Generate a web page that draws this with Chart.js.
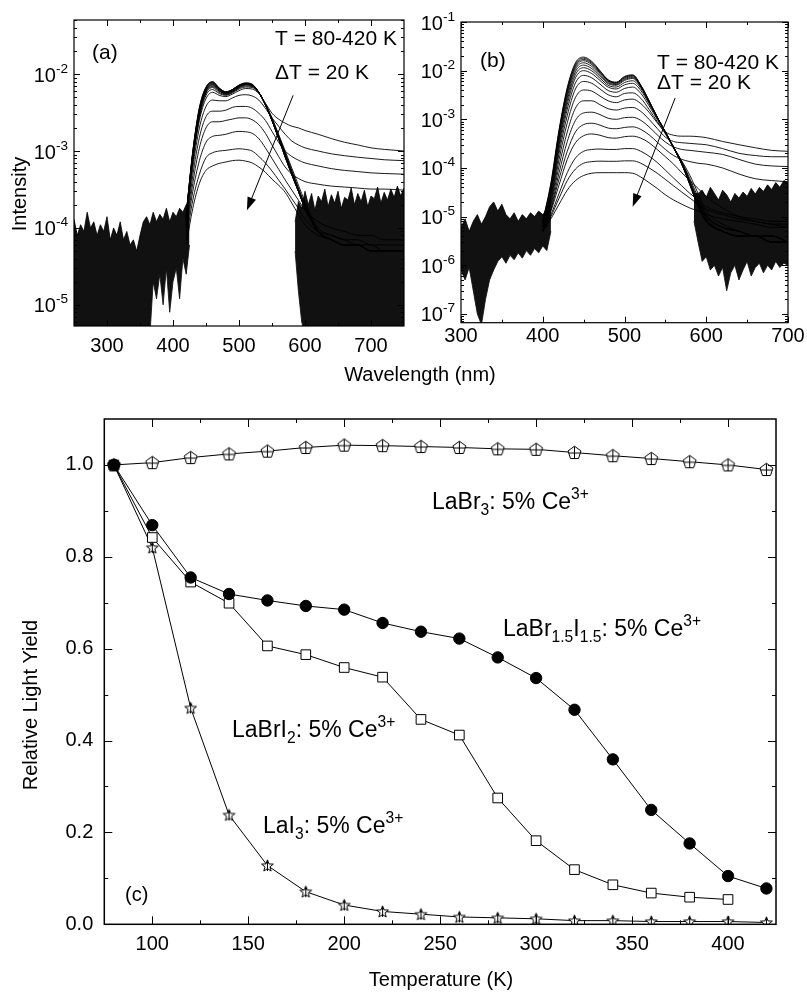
<!DOCTYPE html>
<html>
<head>
<meta charset="utf-8">
<script src="https://cdn.jsdelivr.net/npm/chart.js@4.4.0/dist/chart.umd.min.js"></script>
<style>
  body { margin: 0; background: #fff; }
  canvas { position: absolute; left: 0; top: 0; }
</style>
</head>
<body>
<canvas id="chartA" width="807" height="996"></canvas>
<canvas id="chartB" width="807" height="996"></canvas>
<canvas id="chartC" width="807" height="996"></canvas>
<script>
// ---------- panel (a) : spectra, wavelength grid in nm ----------
const aWl = [420,430,440,450,460,470,480,490,500,510,520,530,540,550,560,570,580,590,600,620,640,660,680,700,720,750];
const a80  = [1.5e-4,1.0e-3,3.7e-3,6.8e-3,8.0e-3,6.6e-3,5.9e-3,6.3e-3,7.2e-3,7.7e-3,7.4e-3,5.8e-3,4.0e-3,2.5e-3,1.45e-3,8.3e-4,4.9e-4,3.0e-4,1.8e-4,9e-5,7e-5,6e-5,6e-5,5e-5,5e-5,5e-5];
const a100 = [1.5e-4,9.8e-4,3.6e-3,6.7e-3,7.9e-3,6.6e-3,5.9e-3,6.3e-3,7.2e-3,7.6e-3,7.3e-3,5.8e-3,4.0e-3,2.5e-3,1.45e-3,8.3e-4,4.9e-4,3.0e-4,1.8e-4,9e-5,7e-5,6e-5,6e-5,5e-5,5e-5,5e-5];
const a120 = [1.5e-4,9.6e-4,3.5e-3,6.6e-3,7.8e-3,6.5e-3,5.8e-3,6.3e-3,7.1e-3,7.6e-3,7.3e-3,5.8e-3,4.0e-3,2.5e-3,1.45e-3,8.4e-4,4.9e-4,3.0e-4,1.8e-4,9e-5,7e-5,6e-5,6e-5,5e-5,5e-5,5e-5];
const a140 = [1.5e-4,9.4e-4,3.4e-3,6.5e-3,7.7e-3,6.5e-3,5.8e-3,6.2e-3,7.1e-3,7.5e-3,7.3e-3,5.8e-3,4.0e-3,2.5e-3,1.46e-3,8.5e-4,5.0e-4,3.0e-4,1.8e-4,9e-5,7e-5,6e-5,6e-5,5e-5,5e-5,5e-5];
const a160 = [1.4e-4,9.2e-4,3.4e-3,6.4e-3,7.6e-3,6.4e-3,5.7e-3,6.2e-3,7.0e-3,7.5e-3,7.2e-3,5.8e-3,4.0e-3,2.5e-3,1.47e-3,8.6e-4,5.0e-4,3.0e-4,1.8e-4,9e-5,7e-5,6e-5,6e-5,5e-5,5e-5,5e-5];
const a180 = [1.4e-4,9.0e-4,3.3e-3,6.2e-3,7.4e-3,6.3e-3,5.7e-3,6.1e-3,7.0e-3,7.4e-3,7.2e-3,5.8e-3,4.0e-3,2.5e-3,1.48e-3,8.7e-4,5.1e-4,3.1e-4,1.9e-4,9e-5,7e-5,6e-5,6e-5,5e-5,5e-5,5e-5];
const a200 = [1.4e-4,8.8e-4,3.2e-3,6.1e-3,7.3e-3,6.2e-3,5.6e-3,6.1e-3,6.9e-3,7.4e-3,7.1e-3,5.8e-3,4.0e-3,2.5e-3,1.5e-3,8.8e-4,5.2e-4,3.1e-4,1.9e-4,9e-5,7e-5,6e-5,6e-5,5e-5,5e-5,5e-5];
const a220 = [1.4e-4,8.6e-4,3.1e-3,6.0e-3,7.1e-3,6.1e-3,5.6e-3,6.0e-3,6.8e-3,7.3e-3,7.1e-3,5.8e-3,4.0e-3,2.55e-3,1.5e-3,9.0e-4,5.3e-4,3.2e-4,1.9e-4,9e-5,7e-5,6e-5,6e-5,5e-5,5e-5,5e-5];
const a240 = [1.3e-4,8.3e-4,3.0e-3,5.8e-3,6.9e-3,6.0e-3,5.5e-3,5.9e-3,6.7e-3,7.2e-3,7.0e-3,5.8e-3,4.05e-3,2.6e-3,1.55e-3,9.2e-4,5.4e-4,3.2e-4,2.0e-4,9e-5,7e-5,6e-5,6e-5,5e-5,5e-5,5e-5];
const a260 = [1.3e-4,8.0e-4,2.9e-3,5.6e-3,6.7e-3,5.8e-3,5.4e-3,5.8e-3,6.6e-3,7.0e-3,6.9e-3,5.7e-3,4.1e-3,2.65e-3,1.6e-3,9.5e-4,5.6e-4,3.3e-4,2.0e-4,9e-5,7e-5,6e-5,6e-5,5e-5,5e-5,5e-5];
const a280 = [1.3e-4,7.6e-4,2.7e-3,5.3e-3,6.3e-3,5.6e-3,5.3e-3,5.7e-3,6.4e-3,6.8e-3,6.7e-3,5.7e-3,4.1e-3,2.7e-3,1.65e-3,1.0e-3,6.0e-4,3.6e-4,2.2e-4,1.0e-4,8e-5,7e-5,6e-5,6e-5,5e-5,5e-5];
const a300 = [1.2e-4,7.0e-4,2.5e-3,4.8e-3,5.8e-3,5.3e-3,5.1e-3,5.5e-3,6.1e-3,6.5e-3,6.4e-3,5.6e-3,4.2e-3,3.1e-3,2.6e-3,2.3e-3,2.1e-3,2.0e-3,1.85e-3,1.65e-3,1.45e-3,1.3e-3,1.2e-3,1.1e-3,1.05e-3,1.0e-3];
const a320 = [1.1e-4,6.0e-4,2.0e-3,3.8e-3,4.6e-3,4.5e-3,4.5e-3,4.9e-3,5.3e-3,5.4e-3,5.2e-3,4.6e-3,3.6e-3,2.7e-3,2.1e-3,1.65e-3,1.35e-3,1.2e-3,1.1e-3,1.0e-3,9.2e-4,8.7e-4,8.3e-4,8.0e-4,7.7e-4,7.5e-4];
const a340 = [1.0e-4,4.8e-4,1.5e-3,2.8e-3,3.3e-3,3.3e-3,3.4e-3,3.7e-3,3.8e-3,3.8e-3,3.6e-3,3.1e-3,2.5e-3,1.8e-3,1.3e-3,1.0e-3,8.5e-4,7.6e-4,7.0e-4,6.4e-4,5.9e-4,5.6e-4,5.4e-4,5.2e-4,5.1e-4,5.0e-4];
const a360 = [9e-5,3.8e-4,1.1e-3,2.0e-3,2.4e-3,2.4e-3,2.5e-3,2.6e-3,2.7e-3,2.7e-3,2.55e-3,2.2e-3,1.7e-3,1.2e-3,8.5e-4,6.2e-4,5.0e-4,4.4e-4,4.0e-4,3.7e-4,3.5e-4,3.4e-4,3.3e-4,3.2e-4,3.2e-4,3.1e-4];
const a380 = [8e-5,3.0e-4,7.5e-4,1.3e-3,1.55e-3,1.6e-3,1.65e-3,1.75e-3,1.8e-3,1.78e-3,1.7e-3,1.45e-3,1.1e-3,8.0e-4,5.8e-4,4.2e-4,3.1e-4,2.3e-4,1.7e-4,1.2e-4,1.0e-4,9e-5,8e-5,8e-5,7e-5,7e-5];
const a400 = [7e-5,2.3e-4,5.0e-4,8.2e-4,9.5e-4,1.0e-3,1.02e-3,1.05e-3,1.07e-3,1.05e-3,1.0e-3,8.5e-4,7.0e-4,5.5e-4,4.2e-4,3.2e-4,2.4e-4,1.8e-4,1.3e-4,9e-5,8e-5,7e-5,7e-5,6e-5,6e-5,6e-5];
const a420 = [6e-5,1.8e-4,3.8e-4,5.6e-4,6.4e-4,6.9e-4,7.2e-4,7.5e-4,7.6e-4,7.4e-4,7.0e-4,6.2e-4,5.3e-4,4.3e-4,3.6e-4,2.9e-4,2.1e-4,1.5e-4,1.1e-4,8e-5,7e-5,6e-5,6e-5,5e-5,5e-5,5e-5];
const aCurves = [a80,a100,a120,a140,a160,a180,a200,a220,a240,a260,a280,a300,a320,a340,a360,a380,a400,a420];

// noisy floor of panel (a): upper and lower envelope of the black noise
const aNoiseLeftWl = [250,255,260,265,270,275,280,285,290,295,300,305,310,315,320,325,330,335,340,345,350,355,360,365,370,375,380,385,390,395,400,405,410,415,420,425];
const aNoiseLeftHi = [1.3e-4,8e-5,1.1e-4,9e-5,1.6e-4,1.0e-4,1.2e-4,8e-5,1.1e-4,9e-5,1.4e-4,7e-5,1.0e-4,8e-5,1.2e-4,7e-5,9e-5,6e-5,7e-5,5e-5,8e-5,1.2e-4,1.4e-4,1.1e-4,1.6e-4,1.2e-4,1.5e-4,1.3e-4,1.8e-4,1.2e-4,1.6e-4,1.4e-4,1.8e-4,1.6e-4,2.0e-4,2.2e-4];
const aNoiseLeftLo = [4e-6,4e-6,4e-6,4e-6,4e-6,4e-6,4e-6,4e-6,4e-6,4e-6,4e-6,4e-6,4e-6,4e-6,4e-6,4e-6,4e-6,4e-6,4e-6,4e-6,4e-6,4e-6,4e-6,4e-6,2e-5,1.2e-5,2.5e-5,1e-5,3e-5,8e-6,2e-5,3e-5,1.2e-5,4e-5,2.5e-5,6e-5];
const aNoiseRightWl = [585,590,595,600,605,610,615,620,625,630,635,640,645,650,655,660,665,670,675,680,685,690,695,700,705,710,715,720,725,730,735,740,745,750];
const aNoiseRightHi = [1.2e-4,2.2e-4,1.8e-4,3e-4,2e-4,2.8e-4,1.7e-4,2.6e-4,2.2e-4,3.2e-4,1.9e-4,2.7e-4,2.1e-4,3e-4,1.8e-4,2.5e-4,2.3e-4,3.3e-4,2e-4,2.8e-4,2.2e-4,3.1e-4,1.9e-4,2.6e-4,2.4e-4,3.4e-4,2.1e-4,2.9e-4,2.3e-4,3.2e-4,2.5e-4,3.5e-4,2.6e-4,3.3e-4];
const aNoiseRightLo = [5e-5,1.5e-5,6e-6,4e-6,4e-6,4e-6,4e-6,4e-6,4e-6,4e-6,4e-6,4e-6,4e-6,4e-6,4e-6,4e-6,4e-6,4e-6,4e-6,4e-6,4e-6,4e-6,4e-6,4e-6,4e-6,4e-6,4e-6,4e-6,4e-6,4e-6,4e-6,4e-6,4e-6,4e-6];
const aXTicks = [300,400,500,600,700];
const aYTicks = [1e-5,1e-4,1e-3,1e-2];

// ---------- panel (b) ----------
const bWl = [400,410,420,430,440,450,460,470,480,490,500,510,520,530,540,550,560,570,580,590,600,620,640,660,680,700];
const b80  = [8e-6,5e-5,6.2e-4,4.5e-3,1.45e-2,1.9e-2,1.55e-2,1.0e-2,6.5e-3,5.8e-3,7.6e-3,8.2e-3,5.0e-3,2.4e-3,1.1e-3,5.5e-4,2.6e-4,1.2e-4,4.5e-5,1.6e-5,8e-6,5e-6,4e-6,4e-6,3e-6,3e-6];
const b100 = [8e-6,4.6e-5,5.8e-4,4.2e-3,1.36e-2,1.8e-2,1.48e-2,9.7e-3,6.4e-3,5.7e-3,7.4e-3,8.0e-3,5.0e-3,2.4e-3,1.1e-3,5.5e-4,2.6e-4,1.2e-4,4.5e-5,1.6e-5,8e-6,5e-6,4e-6,4e-6,3e-6,3e-6];
const b120 = [8e-6,4.3e-5,5.4e-4,3.9e-3,1.27e-2,1.7e-2,1.41e-2,9.3e-3,6.2e-3,5.6e-3,7.2e-3,7.8e-3,4.9e-3,2.4e-3,1.1e-3,5.5e-4,2.6e-4,1.2e-4,4.6e-5,1.7e-5,8e-6,5e-6,4e-6,4e-6,3e-6,3e-6];
const b140 = [7e-6,4.0e-5,5.0e-4,3.6e-3,1.18e-2,1.6e-2,1.33e-2,8.9e-3,6.0e-3,5.4e-3,6.9e-3,7.5e-3,4.8e-3,2.35e-3,1.1e-3,5.5e-4,2.6e-4,1.2e-4,4.7e-5,1.7e-5,8e-6,5e-6,4e-6,4e-6,3e-6,3e-6];
const b160 = [7e-6,3.6e-5,4.5e-4,3.2e-3,1.07e-2,1.45e-2,1.22e-2,8.3e-3,5.7e-3,5.2e-3,6.6e-3,7.2e-3,4.7e-3,2.3e-3,1.1e-3,5.5e-4,2.6e-4,1.25e-4,4.8e-5,1.8e-5,8e-6,5e-6,4e-6,4e-6,3e-6,3e-6];
const b180 = [7e-6,3.3e-5,4.0e-4,2.8e-3,9.5e-3,1.3e-2,1.1e-2,7.7e-3,5.4e-3,5.0e-3,6.3e-3,6.9e-3,4.6e-3,2.3e-3,1.1e-3,5.5e-4,2.7e-4,1.3e-4,5.0e-5,1.9e-5,9e-6,5e-6,4e-6,4e-6,3e-6,3e-6];
const b200 = [6e-6,3.0e-5,3.5e-4,2.4e-3,8.3e-3,1.15e-2,9.9e-3,7.0e-3,5.0e-3,4.6e-3,5.7e-3,6.2e-3,4.3e-3,2.2e-3,1.1e-3,5.5e-4,2.7e-4,1.3e-4,5.2e-5,2.0e-5,9e-6,5e-6,4e-6,4e-6,3e-6,3e-6];
const b220 = [6e-6,2.7e-5,3.0e-4,2.0e-3,7.1e-3,1.0e-2,8.7e-3,6.3e-3,4.6e-3,4.2e-3,5.1e-3,5.5e-3,3.9e-3,2.1e-3,1.05e-3,5.4e-4,2.7e-4,1.3e-4,5.5e-5,2.2e-5,1.0e-5,6e-6,5e-6,4e-6,4e-6,3e-6];
const b240 = [6e-6,2.4e-5,2.5e-4,1.6e-3,5.6e-3,8.0e-3,7.1e-3,5.3e-3,3.9e-3,3.6e-3,4.3e-3,4.6e-3,3.4e-3,1.9e-3,1.0e-3,5.3e-4,2.7e-4,1.35e-4,6.0e-5,2.5e-5,1.1e-5,6e-6,5e-6,4e-6,4e-6,3e-6];
const b260 = [5e-6,2.1e-5,2.0e-4,1.2e-3,4.2e-3,6.0e-3,5.5e-3,4.2e-3,3.2e-3,2.9e-3,3.4e-3,3.5e-3,2.7e-3,1.6e-3,9.0e-4,5.0e-4,2.6e-4,1.4e-4,7.0e-5,3.0e-5,1.3e-5,7e-6,5e-6,4e-6,4e-6,3e-6];
const b280 = [5e-6,1.9e-5,1.5e-4,8.5e-4,2.8e-3,4.0e-3,3.8e-3,3.0e-3,2.4e-3,2.2e-3,2.5e-3,2.6e-3,2.1e-3,1.4e-3,8.5e-4,5.5e-4,4.7e-4,4.5e-4,4.5e-4,4.4e-4,4.2e-4,3.5e-4,3.0e-4,2.6e-4,2.3e-4,2.2e-4];
const b300 = [5e-6,1.7e-5,1.1e-4,5.5e-4,1.7e-3,2.4e-3,2.4e-3,2.0e-3,1.65e-3,1.55e-3,1.7e-3,1.75e-3,1.45e-3,1.0e-3,6.5e-4,4.3e-4,3.5e-4,3.3e-4,3.2e-4,3.1e-4,3.0e-4,2.5e-4,2.0e-4,1.8e-4,1.7e-4,1.7e-4];
const b320 = [5e-6,1.5e-5,8e-5,3.5e-4,9.5e-4,1.35e-3,1.4e-3,1.25e-3,1.05e-3,1.0e-3,1.08e-3,1.1e-3,9.5e-4,7.0e-4,4.8e-4,3.4e-4,2.7e-4,2.4e-4,2.3e-4,2.2e-4,2.1e-4,1.9e-4,1.5e-4,1.2e-4,1.1e-4,1.07e-4];
const b340 = [5e-6,1.4e-5,6e-5,2.2e-4,5.5e-4,7.8e-4,8.3e-4,7.6e-4,6.6e-4,6.4e-4,6.8e-4,7.0e-4,6.2e-4,4.8e-4,3.4e-4,2.4e-4,1.8e-4,1.5e-4,1.35e-4,1.25e-4,1.2e-4,1.0e-4,7.5e-5,6.0e-5,5.5e-5,5.2e-5];
const b360 = [5e-6,1.3e-5,4.5e-5,1.5e-4,3.3e-4,4.6e-4,5.0e-4,4.7e-4,4.2e-4,4.1e-4,4.4e-4,4.5e-4,4.1e-4,3.3e-4,2.4e-4,1.7e-4,1.2e-4,8.0e-5,5.5e-5,3.8e-5,2.6e-5,1.5e-5,1.0e-5,8e-6,7e-6,6e-6];
const b380 = [5e-6,1.1e-5,3.0e-5,8.0e-5,1.6e-4,2.2e-4,2.4e-4,2.45e-4,2.4e-4,2.4e-4,2.5e-4,2.5e-4,2.2e-4,1.75e-4,1.3e-4,9.0e-5,6.2e-5,4.3e-5,3.0e-5,2.2e-5,1.6e-5,1.2e-5,1.0e-5,9e-6,8e-6,8e-6];
const b400 = [5e-6,1.0e-5,2.4e-5,5.5e-5,9.5e-5,1.25e-4,1.35e-4,1.38e-4,1.37e-4,1.37e-4,1.4e-4,1.4e-4,1.25e-4,1.0e-4,7.8e-5,5.8e-5,4.3e-5,3.2e-5,2.4e-5,1.8e-5,1.4e-5,1.1e-5,9e-6,8e-6,7e-6,7e-6];
const b420 = [5e-6,9e-6,1.8e-5,3.5e-5,5.5e-5,7.0e-5,7.8e-5,8.0e-5,8.0e-5,8.0e-5,8.0e-5,7.8e-5,6.5e-5,5.0e-5,3.8e-5,2.8e-5,2.2e-5,1.8e-5,1.5e-5,1.3e-5,1.1e-5,9e-6,8e-6,7e-6,6e-6,6e-6];
const bCurves = [b80,b100,b120,b140,b160,b180,b200,b220,b240,b260,b280,b300,b320,b340,b360,b380,b400,b420];

const bNoiseLeftWl = [300,305,310,315,320,325,330,335,340,345,350,355,360,365,370,375,380,385,390,395,400,405,410];
const bNoiseLeftHi = [6e-6,9e-6,5e-6,8e-6,1.1e-5,7e-6,1.0e-5,1.6e-5,2e-5,1.3e-5,1.8e-5,1.1e-5,9e-6,1.2e-5,8e-6,1.1e-5,9e-6,1.2e-5,1.0e-5,1.3e-5,1.1e-5,1.4e-5,2.5e-5];
const bNoiseLeftLo = [8e-7,5e-7,9e-7,3e-7,1e-7,6e-8,2e-7,5e-7,8e-7,1.2e-6,1.5e-6,1.1e-6,1.6e-6,1.3e-6,1.8e-6,1.4e-6,2e-6,1.6e-6,2.2e-6,1.8e-6,2.5e-6,2e-6,5e-6];
const bNoiseRightWl = [585,590,595,600,605,610,615,620,625,630,635,640,645,650,655,660,665,670,675,680,685,690,695,700];
const bNoiseRightHi = [3e-5,3e-5,3.5e-5,2.5e-5,4e-5,3e-5,2.2e-5,3.5e-5,2.8e-5,2e-5,3e-5,2.4e-5,3.2e-5,2.6e-5,3.8e-5,2.9e-5,4e-5,3.3e-5,4.5e-5,3.6e-5,5e-5,4e-5,5.5e-5,5e-5];
const bNoiseRightLo = [8e-6,3e-6,1.2e-6,1.5e-6,8e-7,1e-6,6e-7,9e-7,3e-7,7e-7,1e-6,5e-7,8e-7,1.2e-6,6e-7,9e-7,1.1e-6,7e-7,1e-6,8e-7,1.2e-6,9e-7,1.1e-6,1e-6];
const bXTicks = [300,400,500,600,700];
const bYTicks = [1e-7,1e-6,1e-5,1e-4,1e-3,1e-2,1e-1];

// ---------- panel (c) : relative light yield ----------
const temperature = [80,100,120,140,160,180,200,220,240,260,280,300,320,340,360,380,400,420];
const laBr3      = [1.0,1.005,1.016,1.024,1.030,1.038,1.043,1.042,1.040,1.038,1.035,1.034,1.027,1.020,1.014,1.007,1.000,0.990];
const laBr15I15  = [1.0,0.869,0.755,0.719,0.705,0.693,0.685,0.656,0.637,0.622,0.581,0.536,0.467,0.359,0.249,0.176,0.105,0.078];
const laBrI2     = [1.0,0.842,0.745,0.699,0.606,0.587,0.559,0.538,0.446,0.412,0.275,0.182,0.119,0.086,0.068,0.059,0.054,null];
const laI3       = [1.0,0.820,0.471,0.238,0.128,0.071,0.042,0.028,0.022,0.016,0.014,0.012,0.008,0.008,0.006,0.006,0.006,0.004];
const cXTicks = [100,150,200,250,300,350,400];
const cXMinor = [125,175,225,275,325,375];
const cYTicks = [0.0,0.2,0.4,0.6,0.8,1.0];
const cYMinor = [0.1,0.3,0.5,0.7,0.9];

const FONT = '"Liberation Sans", Arial, Helvetica, sans-serif';

function logMinors(lo, hi) {
  const out = [];
  for (let e = Math.floor(Math.log10(lo)); e <= Math.ceil(Math.log10(hi)); e++)
    for (let k = 2; k <= 9; k++) { const v = k * Math.pow(10, e); if (v > lo && v < hi) out.push(v); }
  return out;
}

// draws text made of normal / subscript (-1) / superscript (1) pieces
function richText(ctx, x, y, parts, size, align) {
  const f = s => s + 'px ' + FONT;
  const small = size * 0.68;
  let w = 0;
  parts.forEach(p => { ctx.font = f(p[1] ? small : size); w += ctx.measureText(p[0]).width; });
  let cx = align === 'center' ? x - w / 2 : (align === 'right' ? x - w : x);
  ctx.textBaseline = 'alphabetic';
  ctx.textAlign = 'left';
  parts.forEach(p => {
    ctx.font = f(p[1] ? small : size);
    const dy = p[1] === 1 ? -size * 0.45 : (p[1] === -1 ? size * 0.25 : 0);
    ctx.fillText(p[0], cx, y + dy);
    cx += ctx.measureText(p[0]).width;
  });
}

// frame with inward ticks, log tick labels, notes and arrows
const framePlugin = {
  id: 'frame',
  afterDatasetsDraw(chart, args, o) {
    const {ctx, chartArea: a} = chart;
    const x = chart.scales.x, y = chart.scales.y;
    ctx.save();
    ctx.strokeStyle = '#000';
    ctx.fillStyle = '#000';
    ctx.lineWidth = o.lw;
    ctx.strokeRect(a.left, a.top, a.right - a.left, a.bottom - a.top);
    ctx.lineWidth = 1;
    ctx.beginPath();
    const tx = (vals, len) => vals.forEach(v => {
      const p = Math.round(x.getPixelForValue(v)) + 0.5;
      ctx.moveTo(p, a.bottom); ctx.lineTo(p, a.bottom - len);
      ctx.moveTo(p, a.top); ctx.lineTo(p, a.top + len);
    });
    const ty = (vals, len) => vals.forEach(v => {
      const p = Math.round(y.getPixelForValue(v)) + 0.5;
      ctx.moveTo(a.left, p); ctx.lineTo(a.left + len, p);
      ctx.moveTo(a.right, p); ctx.lineTo(a.right - len, p);
    });
    tx(o.xMajor, o.major); tx(o.xMinor, o.minor);
    ty(o.yMajor, o.major); ty(o.yMinor, o.minor);
    ctx.stroke();

    // powers of ten on the log axis
    (o.logLabels || []).forEach(v => {
      const py = y.getPixelForValue(v);
      richText(ctx, a.left - 6, py + 7.5, [['10', 0], [String(Math.round(Math.log10(v))), 1]], 20, 'right');
    });

    (o.arrows || []).forEach(ar => {
      const x0 = x.getPixelForValue(ar[0]), y0 = y.getPixelForValue(ar[1]);
      const x1 = x.getPixelForValue(ar[2]), y1 = y.getPixelForValue(ar[3]);
      const ang = Math.atan2(y1 - y0, x1 - x0);
      ctx.beginPath(); ctx.moveTo(x0, y0); ctx.lineTo(x1 - 10 * Math.cos(ang), y1 - 10 * Math.sin(ang)); ctx.stroke();
      ctx.beginPath();
      ctx.moveTo(x1, y1);
      ctx.lineTo(x1 - 13 * Math.cos(ang) + 4.5 * Math.sin(ang), y1 - 13 * Math.sin(ang) - 4.5 * Math.cos(ang));
      ctx.lineTo(x1 - 13 * Math.cos(ang) - 4.5 * Math.sin(ang), y1 - 13 * Math.sin(ang) + 4.5 * Math.cos(ang));
      ctx.closePath(); ctx.fill();
    });

    (o.notes || []).forEach(n => {
      ctx.save();
      ctx.translate(n.x, n.y);
      if (n.rot) ctx.rotate(n.rot);
      richText(ctx, 0, 0, n.parts, n.size, n.align);
      ctx.restore();
    });
    ctx.restore();
  }
};

function tickFont() { return {family: FONT, size: 20}; }

function spectraDatasets(wl, curves, nl, nlHi, nlLo, nr, nrHi, nrLo) {
  const ds = [];
  curves.forEach(c => ds.push({
    data: wl.map((w, i) => ({x: w, y: c[i]})),
    borderColor: '#000', borderWidth: 0.9, pointRadius: 0,
    cubicInterpolationMode: 'monotone', fill: false
  }));
  const band = (wls, hi, lo) => {
    ds.push({data: wls.map((w, i) => ({x: w, y: hi[i]})), borderColor: '#000', borderWidth: 0.8,
             pointRadius: 0, backgroundColor: '#111', fill: '+1'});
    ds.push({data: wls.map((w, i) => ({x: w, y: lo[i]})), borderColor: '#000', borderWidth: 0.8,
             pointRadius: 0, fill: false});
  };
  band(nl, nlHi, nlLo);
  band(nr, nrHi, nrLo);
  return ds;
}

function spectraOptions(xr, yr, xt, yt, pad, yW, xPad, extra) {
  return {
    responsive: false, animation: false, events: [],
    layout: {padding: pad},
    plugins: {legend: {display: false}, tooltip: {enabled: false}, frame: extra},
    scales: {
      x: {type: 'linear', min: xr[0], max: xr[1],
          grid: {display: false, drawTicks: false}, border: {display: false},
          ticks: {font: tickFont(), color: '#000', padding: xPad, maxRotation: 0, minRotation: 0, autoSkip: false},
          afterBuildTicks: s => { s.ticks = xt.map(v => ({value: v})); },
          afterFit: s => { s.height = 40; }},
      y: {type: 'logarithmic', min: yr[0], max: yr[1],
          grid: {display: false, drawTicks: false}, border: {display: false},
          ticks: {display: false},
          afterBuildTicks: s => { s.ticks = yt.map(v => ({value: v})); },
          afterFit: s => { s.width = yW; }}
    }
  };
}

Chart.register(framePlugin);

// panel (a)
const aYMin = 5.3e-6, aYMax = 5.06e-2;
new Chart(document.getElementById('chartA'), {
  type: 'line',
  data: {datasets: spectraDatasets(aWl, aCurves, aNoiseLeftWl, aNoiseLeftHi, aNoiseLeftLo, aNoiseRightWl, aNoiseRightHi, aNoiseRightLo)},
  options: spectraOptions([250, 750], [aYMin, aYMax], aXTicks, aYTicks,
    {left: 0, top: 20, right: 403, bottom: 630}, 74, 8, {
      lw: 1.2, major: 6, minor: 3,
      xMajor: aXTicks, xMinor: [350, 450, 550, 650],
      yMajor: aYTicks, yMinor: logMinors(aYMin, aYMax), logLabels: aYTicks,
      arrows: [[582, 5.3e-3, 512, 1.7e-4]],
      notes: [
        {x: 92, y: 59, size: 21, parts: [['(a)', 0]]},
        {x: 275, y: 45, size: 21, parts: [['T = 80-420 K', 0]]},
        {x: 275, y: 79, size: 21, parts: [['\u0394T = 20 K', 0]]},
        {x: 26, y: 194, size: 20, rot: -Math.PI / 2, align: 'center', parts: [['Intensity', 0]]},
        {x: 420, y: 381, size: 20, align: 'center', parts: [['Wavelength (nm)', 0]]}
      ]
    })
});

// panel (b)
const bYMin = 6.6e-8, bYMax = 1e-1;
new Chart(document.getElementById('chartB'), {
  type: 'line',
  data: {datasets: spectraDatasets(bWl, bCurves, bNoiseLeftWl, bNoiseLeftHi, bNoiseLeftLo, bNoiseRightWl, bNoiseRightHi, bNoiseRightLo)},
  options: spectraOptions([300, 700], [bYMin, bYMax], bXTicks, bYTicks,
    {left: 401, top: 22, right: 19, bottom: 633.3}, 60, 2, {
      lw: 1.2, major: 6, minor: 3,
      xMajor: bXTicks, xMinor: [350, 450, 550, 650],
      yMajor: bYTicks, yMinor: logMinors(bYMin, bYMax), logLabels: bYTicks,
      arrows: [[562, 2.75e-3, 510, 1.6e-5]],
      notes: [
        {x: 480, y: 67, size: 21, parts: [['(b)', 0]]},
        {x: 657, y: 69, size: 21, parts: [['T = 80-420 K', 0]]},
        {x: 657, y: 89, size: 21, parts: [['\u0394T = 20 K', 0]]}
      ]
    })
});

// custom markers for panel (c)
function marker(draw) {
  const c = document.createElement('canvas');
  c.width = 17; c.height = 17;
  const g = c.getContext('2d');
  g.strokeStyle = '#000'; g.fillStyle = '#fff'; g.lineWidth = 1;
  draw(g);
  return c;
}
const pentagon = marker(g => {
  g.beginPath();
  for (let k = 0; k < 5; k++) {
    const t = -Math.PI / 2 + k * 2 * Math.PI / 5;
    g.lineTo(8.5 + 6.8 * Math.cos(t), 9 + 6.8 * Math.sin(t));
  }
  g.closePath(); g.fill(); g.stroke();
  g.beginPath(); g.moveTo(8.5, 2.5); g.lineTo(8.5, 15); g.moveTo(2.5, 9); g.lineTo(14.5, 9); g.stroke();
});
const starMark = marker(g => {
  g.beginPath();
  for (let k = 0; k < 10; k++) {
    const t = -Math.PI / 2 + k * Math.PI / 5, r = k % 2 ? 2.6 : 6.2;
    g.lineTo(8.5 + r * Math.cos(t), 9 + r * Math.sin(t));
  }
  g.closePath(); g.fill(); g.stroke();
  g.beginPath(); g.moveTo(8.5, 3); g.lineTo(8.5, 14); g.stroke();
});

const pts = arr => temperature.map((t, i) => ({x: t, y: arr[i]})).filter(p => p.y !== null);
const line = {borderColor: '#000', borderWidth: 1, tension: 0, fill: false};

new Chart(document.getElementById('chartC'), {
  type: 'line',
  data: {datasets: [
    Object.assign({label: 'LaBr1.5I1.5: 5% Ce3+', data: pts(laBr15I15), pointStyle: 'circle', pointRadius: 5.7,
                   pointBackgroundColor: '#000', pointBorderColor: '#000'}, line),
    Object.assign({label: 'LaBrI2: 5% Ce3+', data: pts(laBrI2), pointStyle: 'rect', pointRadius: 6.8,
                   pointBackgroundColor: '#fff', pointBorderColor: '#000', pointBorderWidth: 1}, line),
    Object.assign({label: 'LaI3: 5% Ce3+', data: pts(laI3), pointStyle: starMark}, line),
    Object.assign({label: 'LaBr3: 5% Ce3+', data: pts(laBr3), pointStyle: pentagon}, line)
  ]},
  options: {
    responsive: false, animation: false, events: [],
    layout: {padding: {left: 44.3, top: 419, right: 31, bottom: 31.7}},
    plugins: {legend: {display: false}, tooltip: {enabled: false}, frame: {
      lw: 1.5, major: 8, minor: 4,
      xMajor: cXTicks, xMinor: cXMinor, yMajor: cYTicks, yMinor: cYMinor,
      notes: [
        {x: 432, y: 509, size: 23, parts: [['LaBr', 0], ['3', -1], [': 5% Ce', 0], ['3+', 1]]},
        {x: 503, y: 636, size: 23, parts: [['LaBr', 0], ['1.5', -1], ['I', 0], ['1.5', -1], [': 5% Ce', 0], ['3+', 1]]},
        {x: 232, y: 737, size: 23, parts: [['LaBrI', 0], ['2', -1], [': 5% Ce', 0], ['3+', 1]]},
        {x: 263, y: 833, size: 23, parts: [['LaI', 0], ['3', -1], [': 5% Ce', 0], ['3+', 1]]},
        {x: 125, y: 901, size: 20, parts: [['(c)', 0]]},
        {x: 37, y: 705, size: 20, rot: -Math.PI / 2, align: 'center', parts: [['Relative Light Yield', 0]]},
        {x: 441, y: 986, size: 20, align: 'center', parts: [['Temperature (K)', 0]]}
      ]
    }},
    scales: {
      x: {type: 'linear', min: 75, max: 425,
          grid: {display: false, drawTicks: false}, border: {display: false},
          ticks: {font: tickFont(), color: '#000', padding: 8, maxRotation: 0, minRotation: 0, autoSkip: false},
          afterBuildTicks: s => { s.ticks = cXTicks.map(v => ({value: v})); },
          afterFit: s => { s.height = 40; }},
      y: {type: 'linear', min: 0, max: 1.1,
          grid: {display: false, drawTicks: false}, border: {display: false},
          ticks: {font: tickFont(), color: '#000', padding: 11, autoSkip: false, callback: v => v.toFixed(1)},
          afterBuildTicks: s => { s.ticks = cYTicks.map(v => ({value: v})); },
          afterFit: s => { s.width = 60; }}
    }
  }
});
</script>
</body>
</html>
